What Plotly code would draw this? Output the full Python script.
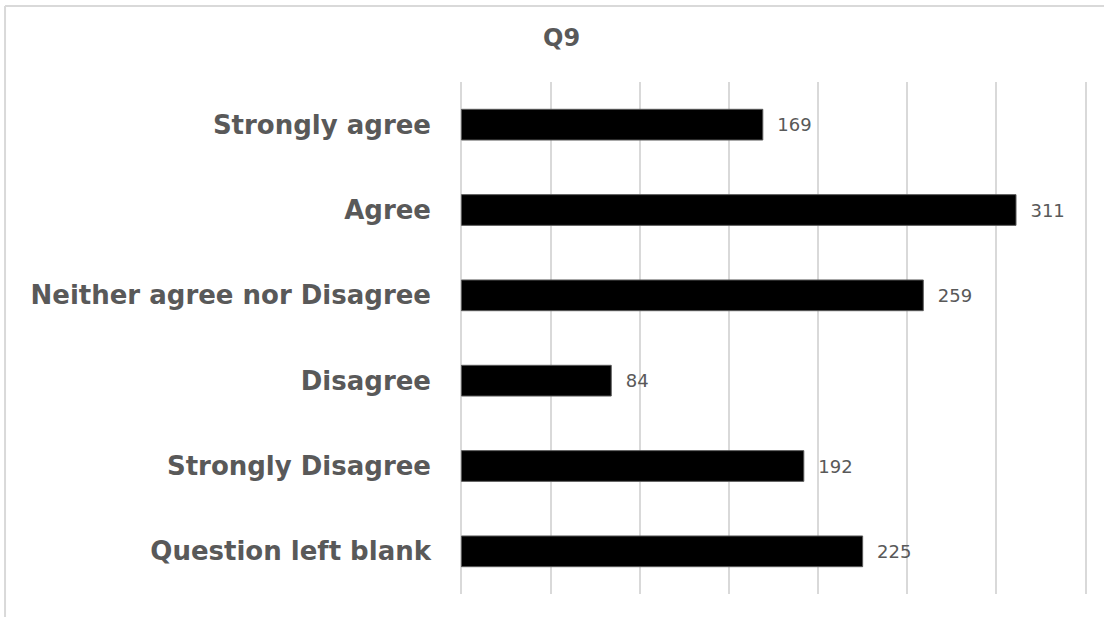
import plotly.graph_objs as go

# survey answers for Q9
categories = ['Strongly agree', 'Agree', 'Neither agree nor Disagree',
              'Disagree', 'Strongly Disagree', 'Question left blank']
counts = [169, 311, 259, 84, 192, 225]

fig = go.Figure(data=[go.Bar(
    y=categories,
    x=counts,
    orientation='h',
    width=0.36,
    marker=dict(color='black', line=dict(color='#595959', width=1)),
    text=counts,
    texttemplate='  %{x}',
    textposition='outside',
    textfont=dict(family='DejaVu Sans', size=18, color='#595959'),
    cliponaxis=False,
)])

fig.update_layout(
    width=1104, height=617,
    margin=dict(l=457, r=14, t=82, b=23),
    paper_bgcolor='white',
    plot_bgcolor='white',
    showlegend=False,
    font=dict(family='DejaVu Sans'),
    # a little padding so the grid lines at 0 and 350 are kept
    xaxis=dict(range=[-2.5, 352.5], tickvals=[0, 50, 100, 150, 200, 250, 300, 350],
               showticklabels=False,
               showgrid=True, gridcolor='#d9d9d9', gridwidth=2,
               zeroline=False, showline=False, fixedrange=True),
    yaxis=dict(autorange='reversed', showgrid=False, zeroline=False,
               ticklabelstandoff=25, fixedrange=True,
               tickfont=dict(family='DejaVu Sans', size=26, color='#595959', weight='bold')),
    annotations=[dict(text='<b>Q9</b>', xref='paper', yref='paper',
                      x=0.165, y=1.0859, xanchor='center', yanchor='middle',
                      showarrow=False,
                      font=dict(family='DejaVu Sans', size=24, color='#595959'))],
    shapes=[
        # chart frame, only left and top show
        dict(type='line', xref='paper', yref='paper', x0=-0.714, x1=1.03,
             y0=1.1484, y1=1.1484, line=dict(color='#d9d9d9', width=2)),
        dict(type='line', xref='paper', yref='paper', x0=-0.714, x1=-0.714,
             y0=1.1484, y1=-0.06, line=dict(color='#d9d9d9', width=2)),
    ],
)

fig.write_html("out.html", config={'displayModeBar': False},
               post_script="document.body.style.margin='0';")
